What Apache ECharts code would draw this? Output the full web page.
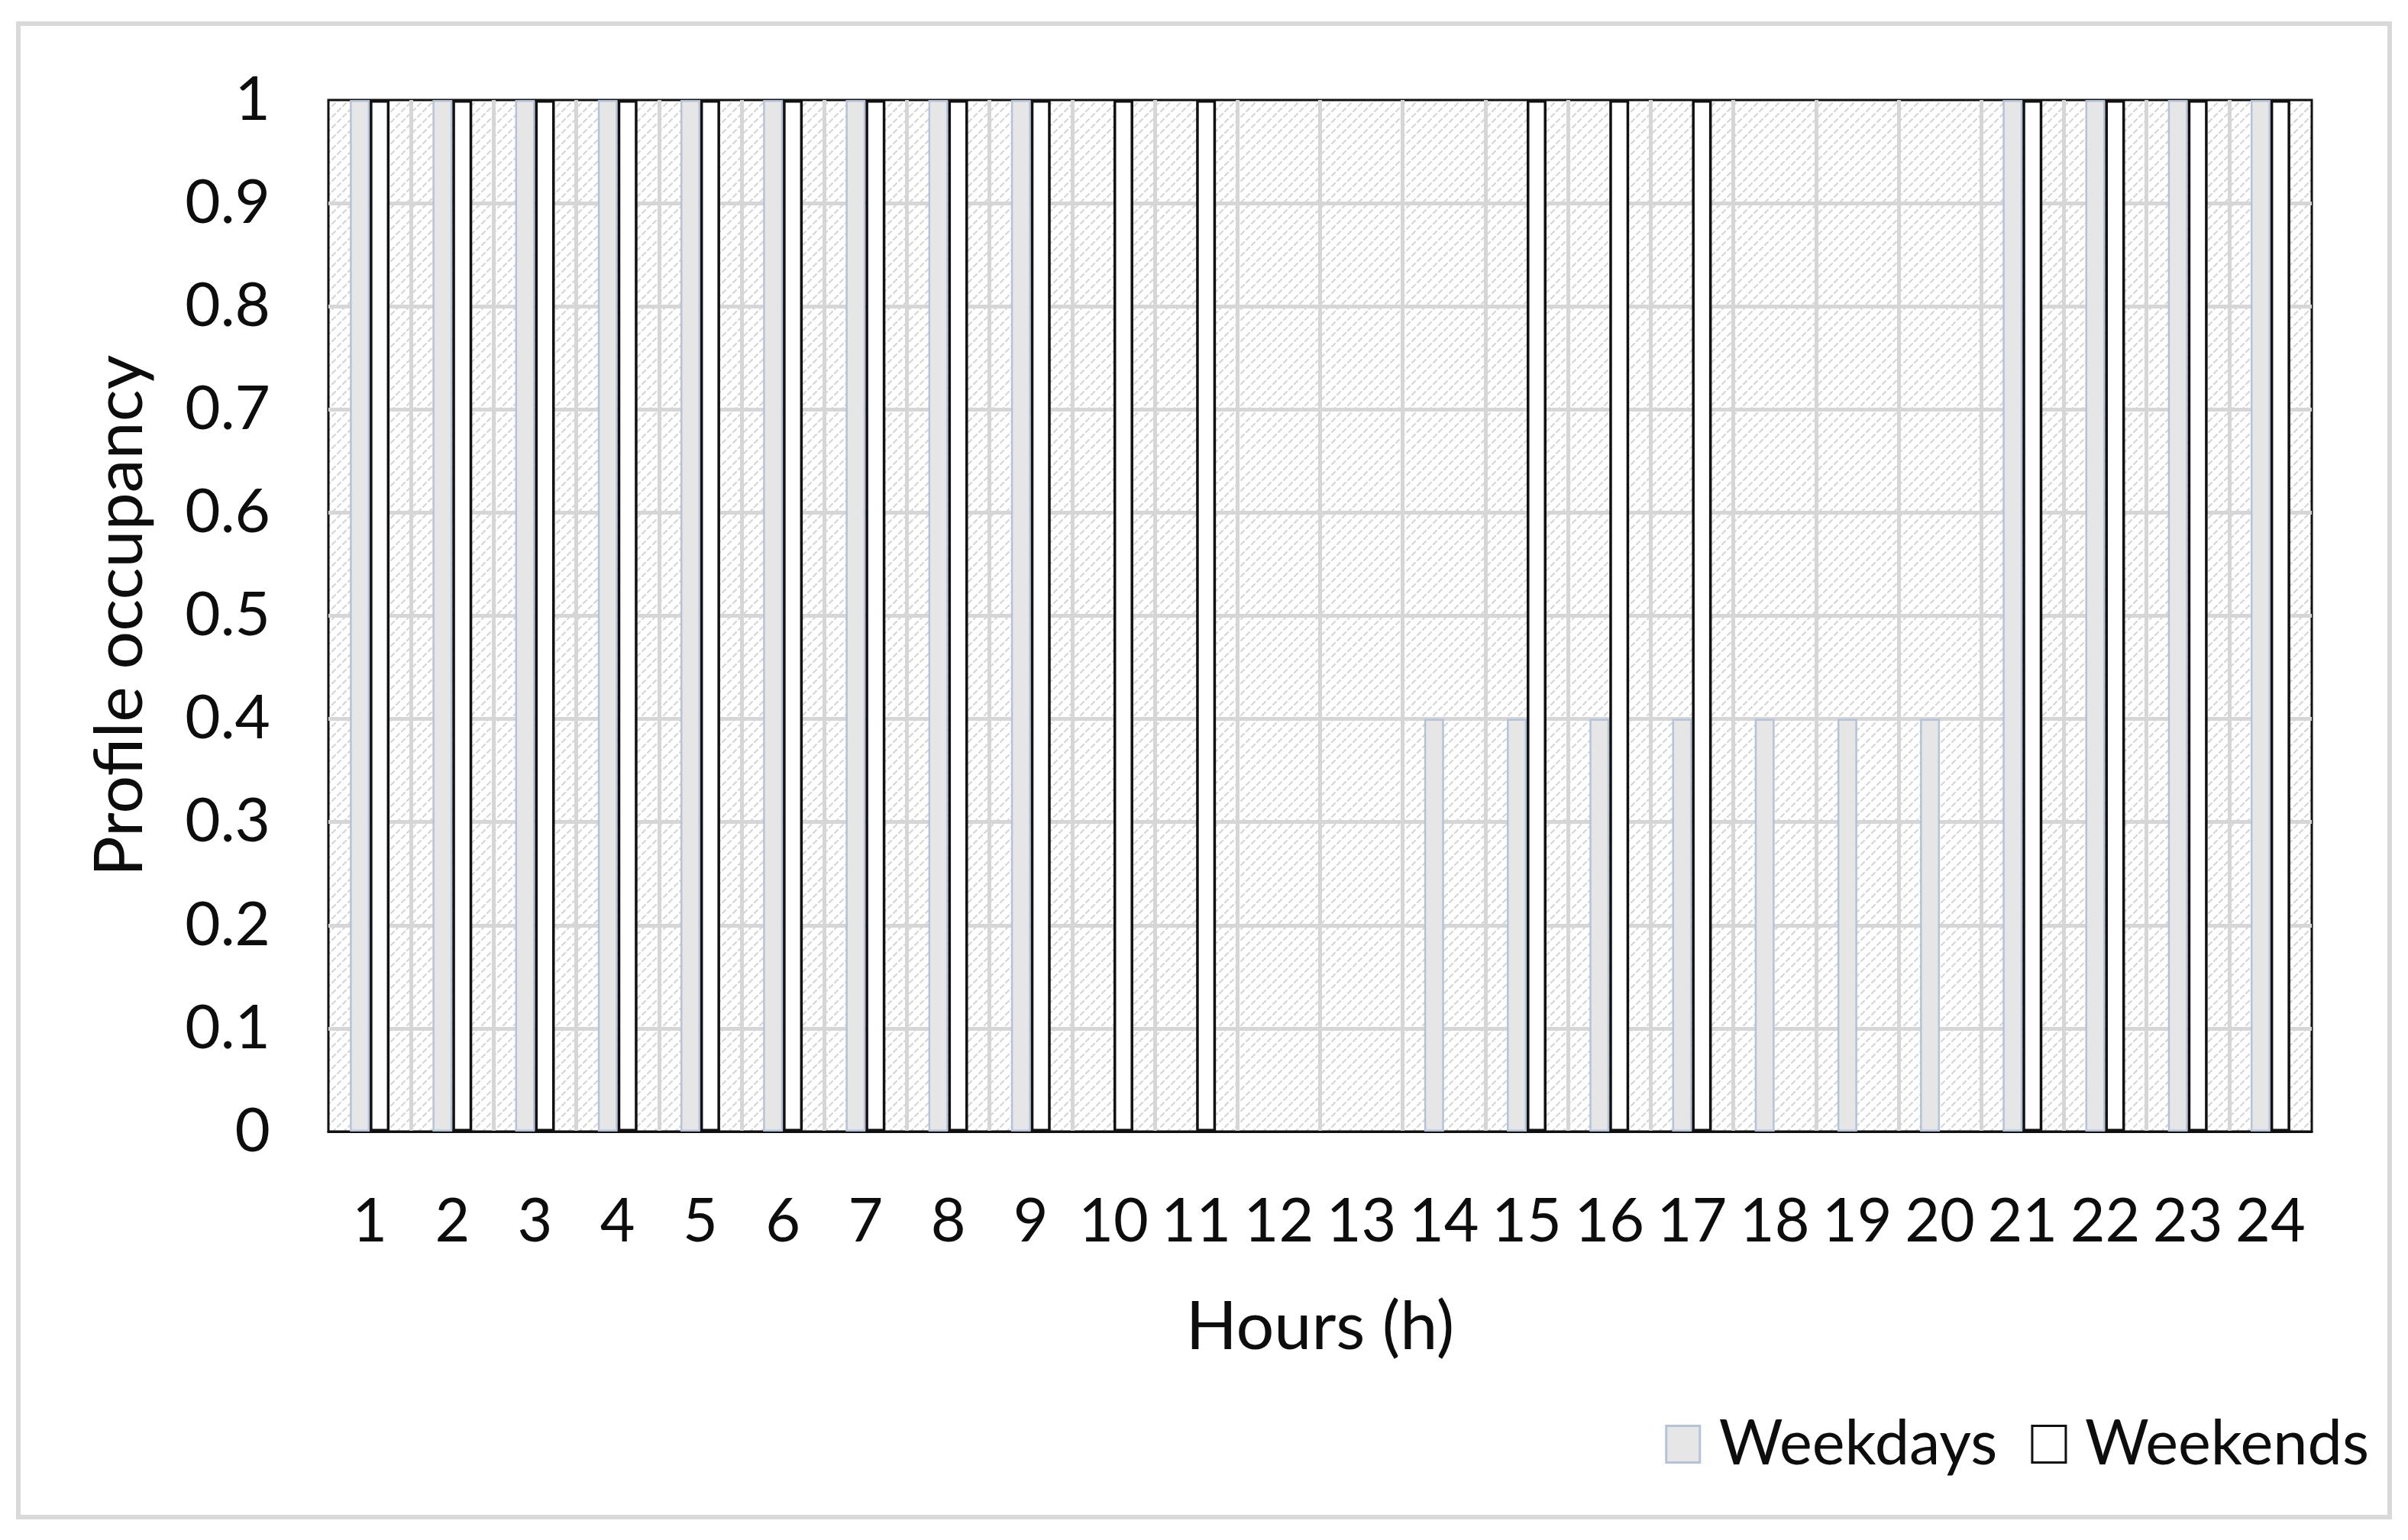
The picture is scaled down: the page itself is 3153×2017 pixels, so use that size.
<!DOCTYPE html>
<html>
<head>
<meta charset="utf-8">
<script src="https://cdn.jsdelivr.net/npm/echarts@6/dist/echarts.min.js"></script>
<style>
html,body{margin:0;padding:0;background:#ffffff;}
#chart{width:3153px;height:2017px;}
</style>
</head>
<body>
<div id="chart"></div>
<script>
// ---- data ----
const hours = ['1','2','3','4','5','6','7','8','9','10','11','12','13','14','15','16','17','18','19','20','21','22','23','24'];
const weekdays = [1,1,1,1,1,1,1,1,1,0,0,0,0,0.4,0.4,0.4,0.4,0.4,0.4,0.4,1,1,1,1];
const weekends = [1,1,1,1,1,1,1,1,1,1,1,0,0,0,1,1,1,0,0,0,1,1,1,1];
const seriesNames = ['Weekdays','Weekends'];
const xTitle = 'Hours (h)';
const yTitle = 'Profile occupancy';

// ---- styles ----
const FONT = 'Lato';
const TXT = '#0d0d0d';
const GRIDLINE = '#d6d6d6';
const wdStyle = {color:'#e6e6e6', borderColor:'#b4c3d9', borderWidth:2.5};
const weStyle = {color:'#ffffff', borderColor:'#111111', borderWidth:3.5};

// hatch pattern tile for plot background (dashed upward diagonal)
const T = 14;
const tile = document.createElement('canvas');
tile.width = T; tile.height = T;
const g = tile.getContext('2d');
g.fillStyle = '#ffffff';
g.fillRect(0,0,T,T);
g.strokeStyle = '#d6d6d6';
g.lineWidth = 2.2;
g.lineCap = 'round';
g.beginPath(); g.moveTo(1, T - 1); g.lineTo(5, T - 5); g.stroke();
g.beginPath(); g.moveTo(8, T - 8); g.lineTo(12, T - 12); g.stroke();

function toItems(arr){
  return arr.map(v => v === 0 ? {value:0, itemStyle:{borderWidth:0}} : v);
}

const chart = echarts.init(document.getElementById('chart'), null, {renderer:'canvas'});
chart.setOption({
  animation:false,
  backgroundColor:'#ffffff',
  textStyle:{fontFamily:FONT, color:TXT},
  graphic:[{
    type:'rect', silent:true, z:-10,
    shape:{x:24, y:31, width:3105, height:1956},
    style:{fill:'none', stroke:'#d9d9d9', lineWidth:6}
  }],
  grid:{
    left:430, right:126, top:131, bottom:535,
    show:true,
    backgroundColor:{image:tile, repeat:'repeat'},
    borderColor:'#111111', borderWidth:3
  },
  legend:{
    right:46, top:1846,
    icon:'rect',
    itemWidth:44, itemHeight:48, itemGap:44,
    textStyle:{fontFamily:FONT, fontSize:81, color:TXT, padding:[0,0,0,20]},
    data:[
      {name:seriesNames[0], itemStyle:{color:wdStyle.color, borderColor:wdStyle.borderColor, borderWidth:3}},
      {name:seriesNames[1], itemStyle:{color:'#ffffff', borderColor:'#111111', borderWidth:3}}
    ]
  },
  xAxis:{
    type:'category',
    data:hours,
    boundaryGap:true,
    name:xTitle,
    nameLocation:'middle',
    nameGap:213,
    nameTextStyle:{fontFamily:FONT, fontSize:88, color:TXT},
    axisLine:{show:true, lineStyle:{color:'#111111', width:3}},
    axisTick:{show:false},
    axisLabel:{interval:0, fontFamily:FONT, fontSize:79, color:TXT, margin:79},
    splitLine:{show:true, showMinLine:false, showMaxLine:false, lineStyle:{color:GRIDLINE, width:5}}
  },
  yAxis:{
    type:'value',
    min:0, max:1, interval:0.1,
    name:yTitle,
    nameLocation:'middle',
    nameGap:228,
    nameTextStyle:{fontFamily:FONT, fontSize:88, color:TXT},
    axisLine:{show:false},
    axisTick:{show:false},
    axisLabel:{fontFamily:FONT, fontSize:80, color:TXT, margin:76,
      formatter:v => String(+v.toFixed(1))},
    splitLine:{show:true, showMinLine:false, showMaxLine:false, lineStyle:{color:GRIDLINE, width:5}}
  },
  series:[
    {
      name:seriesNames[0], type:'bar',
      data:toItems(weekdays),
      barGap:'0%', barCategoryGap:'52%',
      itemStyle:wdStyle
    },
    {
      name:seriesNames[1], type:'bar',
      data:toItems(weekends),
      barGap:'0%', barCategoryGap:'52%',
      itemStyle:weStyle
    }
  ]
});
</script>
</body>
</html>
